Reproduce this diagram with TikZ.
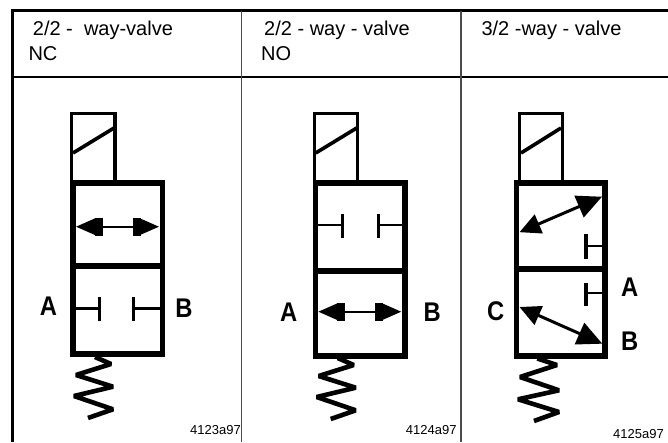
\documentclass[tikz,border=0pt]{standalone}
\usepackage{fontspec}
\setmainfont{Liberation Sans}
\usetikzlibrary{arrows.meta}
\tikzset{frameline/.style = {line width = 3}}
\tikzset{gridline/.style = {line width = 1.2}}
\tikzset{dividerline/.style = {line width = 1.2, black!70}}
\tikzset{wall/.style = {line width = 5.6, line cap = rect}}
\tikzset{coil/.style = {line width = 3.2, line cap = rect}}
\tikzset{slant/.style = {line width = 3.6}}
\tikzset{spring/.style = {line width = 4.6, line join = bevel}}
\tikzset{port/.style = {line width = 2.4}}
\tikzset{portbar/.style = {line width = 3.6}}
\tikzset{flow/.style = {line width = 2.4, {Triangle[length = 19, width = 16, sep = -1pt]Rectangle[length = 8, width = 18]}-{Rectangle[length = 8, width = 18, sep = -1pt]Triangle[length = 19, width = 16]}}}
\tikzset{flowslant/.style = {line width = 3, {Triangle[length = 21, width = 20]}-{Triangle[length = 25, width = 23]}}}
\tikzset{head/.style = {font = \fontsize{20}{24}\selectfont, anchor = base west, inner sep = 0}}
\tikzset{tag/.style = {font = \fontsize{13}{15}\selectfont, anchor = base east, inner sep = 0}}
\tikzset{portname/.style = {font = \fontsize{27}{30}\selectfont\bfseries, xscale = 0.88, inner sep = 0}}
\begin{document}
\begin{tikzpicture}[x = 1pt, y = -1pt]
  \useasboundingbox (0, 0) rectangle (668, 442);

  % table
  \draw [frameline] (12.5, 442) -- (12.5, 10.5) -- (668, 10.5);
  \draw [gridline] (12.5, 77) -- (668, 77);
  \draw [dividerline] (241.5, 10.5) -- (241.5, 442);
  \draw [dividerline] (461, 10.5) -- (461, 442);

  \node [head] (title1) at (32.7, 35) {2/2 -\ \ way-valve};
  \node [head] (type1) at (28.3, 60.7) {NC};
  \node [head] (title2) at (264, 35) {2/2 - way - valve};
  \node [head] (type2) at (261, 60.7) {NO};
  \node [head] (title3) at (481.3, 35) {3/2 -way - valve};

  % first valve
  \draw [coil] (71.5, 183) -- (71.5, 113.5) -- (115, 113.5) -- (115, 183);
  \draw [slant] (73, 153) -- (114, 128);
  \draw [wall] (73, 183) rectangle (162.5, 354);
  \draw [wall, line cap = butt] (73, 266) -- (162.5, 266);
  \draw [flow] (77, 226.7) -- (159, 226.7);
  \draw [port] (76, 308.3) -- (99.5, 308.3);
  \draw [port] (133.5, 308.3) -- (160, 308.3);
  \draw [portbar] (99.5, 297) -- (99.5, 321);
  \draw [portbar] (133.5, 297) -- (133.5, 321);
  \draw [spring] (95, 357) -- (111, 364) -- (76, 375) -- (113, 386.7) -- (74, 396) -- (113, 409.3) -- (88, 418);
  \node [portname] (portA1) at (48.5, 306) {A};
  \node [portname] (portB1) at (184, 308) {B};
  \node [tag] (code1) at (241, 434) {4123a97};

  % second valve
  \draw [coil] (314.2, 183) -- (314.2, 113.5) -- (357.7, 113.5) -- (357.7, 183);
  \draw [slant] (315.7, 153) -- (356.7, 128);
  \draw [wall] (315.5, 183) rectangle (405, 355.7);
  \draw [wall, line cap = butt] (315.5, 270.7) -- (405, 270.7);
  \draw [flow] (319.3, 311.7) -- (401.3, 311.7);
  \draw [port] (318.3, 225) -- (342.3, 225);
  \draw [port] (378.3, 225) -- (402.3, 225);
  \draw [portbar] (342.3, 214) -- (342.3, 238);
  \draw [portbar] (378.3, 214) -- (378.3, 238);
  \draw [spring] (337.7, 358) -- (353.7, 365) -- (318.7, 376) -- (355.7, 387.7) -- (316.7, 397) -- (355.7, 410.3) -- (330.7, 419);
  \node [portname] (portA2) at (288.7, 312.7) {A};
  \node [portname] (portB2) at (432.3, 312.7) {B};
  \node [tag] (code2) at (456.7, 434) {4124a97};

  % third valve
  \draw [coil] (519.5, 183) -- (519.5, 113.5) -- (562.5, 113.5) -- (562.5, 183);
  \draw [slant] (521, 153) -- (561, 128);
  \draw [wall] (516.5, 183) rectangle (605, 356);
  \draw [wall, line cap = butt] (516.5, 269) -- (605, 269);
  \draw [flowslant] (519.5, 232.2) -- (602, 196.7);
  \draw [flowslant] (519.5, 307) -- (602.3, 343.7);
  \draw [port] (585.7, 246) -- (602.3, 246);
  \draw [port] (585.7, 292.7) -- (602.3, 292.7);
  \draw [portbar] (585.7, 234) -- (585.7, 259);
  \draw [portbar] (585.7, 283) -- (585.7, 306);
  \draw [spring] (537.3, 358.5) -- (557, 365) -- (520, 377) -- (559, 390.3) -- (518, 399.3) -- (559, 412) -- (534, 421);
  \node [portname] (portC3) at (495.7, 311) {C};
  \node [portname] (portA3) at (629.7, 287.7) {A};
  \node [portname] (portB3) at (629.7, 341) {B};
  \node [tag] (code3) at (664, 438) {4125a97};
\end{tikzpicture}
\end{document}
